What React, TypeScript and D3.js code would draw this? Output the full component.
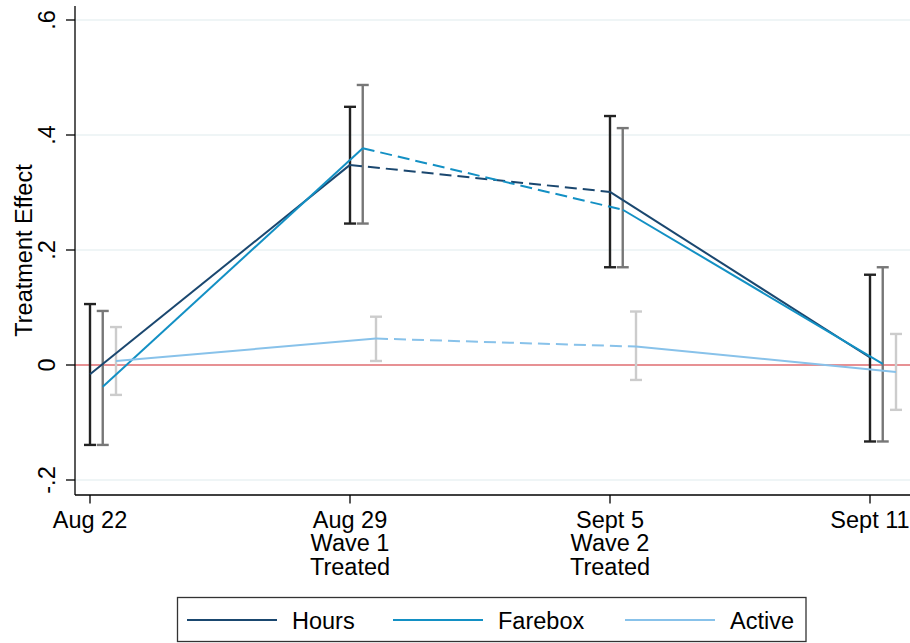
import React, { useRef, useEffect } from 'react';
import * as d3 from 'd3';

// Weeks on the x axis (each label may have several lines)
const WEEKS = [['Aug 22'], ['Aug 29', 'Wave 1', 'Treated'], ['Sept 5', 'Wave 2', 'Treated'], ['Sept 11']];

const SERIES_NAMES = ['Hours', 'Farebox', 'Active'];

// Point estimates per week
const HOURS = [-0.016, 0.348, 0.301, 0.013];
const FAREBOX = [-0.038, 0.377, 0.27, 0.002];
const ACTIVE = [0.007, 0.046, 0.032, -0.012];

// 95% CI bounds per week
const HOURS_LO = [-0.139, 0.246, 0.17, -0.133];
const HOURS_HI = [0.106, 0.449, 0.433, 0.157];
const FAREBOX_LO = [-0.139, 0.246, 0.17, -0.133];
const FAREBOX_HI = [0.094, 0.487, 0.412, 0.17];
const ACTIVE_LO = [-0.052, 0.007, -0.026, -0.078];
const ACTIVE_HI = [0.066, 0.084, 0.093, 0.054];

const Y_TICKS = [-0.2, 0, 0.2, 0.4, 0.6];
const Y_TICK_LABELS = ['-.2', '0', '.2', '.4', '.6'];

const LINE_COLORS = ['#1a476f', '#1390c4', '#88c2ea'];
const CI_COLORS = ['#222222', '#777777', '#cccccc'];
const OFFSETS = [0, 0.049, 0.1]; // horizontal dodge, in week units

const W = 910;
const H = 643;
const FONT = 'Liberation Sans, Arial, Helvetica, sans-serif';

const App: React.FC = () => {
  const ref = useRef<SVGSVGElement>(null);

  useEffect(() => {
    if (!ref.current) return;
    const svg = d3.select(ref.current);
    svg.selectAll('*').remove();

    const x = d3.scaleLinear().domain([0, 3]).range([90, 870]);
    const y = d3.scaleLinear().domain([-0.2, 0.6]).range([480, 20]);
    const plotTop = 6;
    const plotBottom = 495;
    const plotLeft = 75;
    const plotRight = 910;

    // Grid lines
    svg
      .selectAll('.grid')
      .data(Y_TICKS)
      .enter()
      .append('line')
      .attr('x1', plotLeft)
      .attr('x2', plotRight)
      .attr('y1', (d) => y(d))
      .attr('y2', (d) => y(d))
      .attr('stroke', '#eaf2f3')
      .attr('stroke-width', 1.5);

    // Zero reference line
    svg
      .append('line')
      .attr('x1', plotLeft)
      .attr('x2', plotRight)
      .attr('y1', y(0))
      .attr('y2', y(0))
      .attr('stroke', '#e02f33')
      .attr('stroke-width', 1.2);

    // Axes
    svg
      .append('line')
      .attr('x1', plotLeft)
      .attr('x2', plotLeft)
      .attr('y1', plotTop)
      .attr('y2', plotBottom)
      .attr('stroke', '#000')
      .attr('stroke-width', 1.3);
    svg
      .append('line')
      .attr('x1', plotLeft)
      .attr('x2', plotRight)
      .attr('y1', plotBottom)
      .attr('y2', plotBottom)
      .attr('stroke', '#000')
      .attr('stroke-width', 1.3);

    // Y ticks + labels
    Y_TICKS.forEach((t, i) => {
      svg
        .append('line')
        .attr('x1', 66)
        .attr('x2', plotLeft)
        .attr('y1', y(t))
        .attr('y2', y(t))
        .attr('stroke', '#000')
        .attr('stroke-width', 1.3);
      svg
        .append('text')
        .attr('transform', `translate(55,${y(t)}) rotate(-90)`)
        .attr('text-anchor', 'middle')
        .style('font-family', FONT)
        .style('font-size', '23.5px')
        .text(Y_TICK_LABELS[i]);
    });

    svg
      .append('text')
      .attr('transform', `translate(32,${(plotTop + plotBottom) / 2}) rotate(-90)`)
      .attr('text-anchor', 'middle')
      .style('font-family', FONT)
      .style('font-size', '23.5px')
      .text('Treatment Effect');

    // X ticks + labels
    WEEKS.forEach((lines, i) => {
      svg
        .append('line')
        .attr('x1', x(i))
        .attr('x2', x(i))
        .attr('y1', plotBottom)
        .attr('y2', 503.5)
        .attr('stroke', '#000')
        .attr('stroke-width', 1.3);
      const txt = svg
        .append('text')
        .attr('text-anchor', 'middle')
        .style('font-family', FONT)
        .style('font-size', '23.5px');
      lines.forEach((l, j) => {
        txt
          .append('tspan')
          .attr('x', x(i))
          .attr('y', 527.5 + j * 23.7)
          .text(l);
      });
    });

    const points = [HOURS, FAREBOX, ACTIVE];
    const lows = [HOURS_LO, FAREBOX_LO, ACTIVE_LO];
    const highs = [HOURS_HI, FAREBOX_HI, ACTIVE_HI];

    // CI bars
    points.forEach((_, s) => {
      for (let i = 0; i < WEEKS.length; i++) {
        const xp = x(i + OFFSETS[s]);
        const g = svg.append('g').attr('stroke', CI_COLORS[s]).attr('stroke-width', 2.4);
        g.append('line').attr('x1', xp).attr('x2', xp).attr('y1', y(lows[s][i])).attr('y2', y(highs[s][i]));
        [lows[s][i], highs[s][i]].forEach((v) => {
          g.append('line')
            .attr('x1', xp - 6)
            .attr('x2', xp + 6)
            .attr('y1', y(v))
            .attr('y2', y(v));
        });
      }
    });

    // Series lines: solid, dashed between the two treated weeks, solid
    points.forEach((vals, s) => {
      const seg = d3
        .line<[number, number]>()
        .x((d) => x(d[0] + OFFSETS[s]))
        .y((d) => y(d[1]));
      for (let i = 0; i < vals.length - 1; i++) {
        svg
          .append('path')
          .attr(
            'd',
            seg([
              [i, vals[i]],
              [i + 1, vals[i + 1]],
            ])
          )
          .attr('fill', 'none')
          .attr('stroke', LINE_COLORS[s])
          .attr('stroke-width', 2)
          .attr('stroke-dasharray', i === 1 ? '12,6' : null);
      }
    });

    // Legend
    const lg = svg.append('g');
    lg.append('rect')
      .attr('x', 177.5)
      .attr('y', 597.5)
      .attr('width', 628.5)
      .attr('height', 44)
      .attr('fill', '#fff')
      .attr('stroke', '#333')
      .attr('stroke-width', 1.3);
    const legendX = [187, 393, 625];
    SERIES_NAMES.forEach((name, i) => {
      lg.append('line')
        .attr('x1', legendX[i])
        .attr('x2', legendX[i] + 90)
        .attr('y1', 620)
        .attr('y2', 620)
        .attr('stroke', LINE_COLORS[i])
        .attr('stroke-width', 2);
      lg.append('text')
        .attr('x', legendX[i] + 105)
        .attr('y', 629.3)
        .style('font-family', FONT)
        .style('font-size', '23.5px')
        .text(name);
    });
  }, []);

  return (
    <svg
      ref={ref}
      width={W}
      height={H}
      style={{ position: 'absolute', left: 0, top: 0, display: 'block', background: '#fff' }}
    />
  );
};

export default App;
